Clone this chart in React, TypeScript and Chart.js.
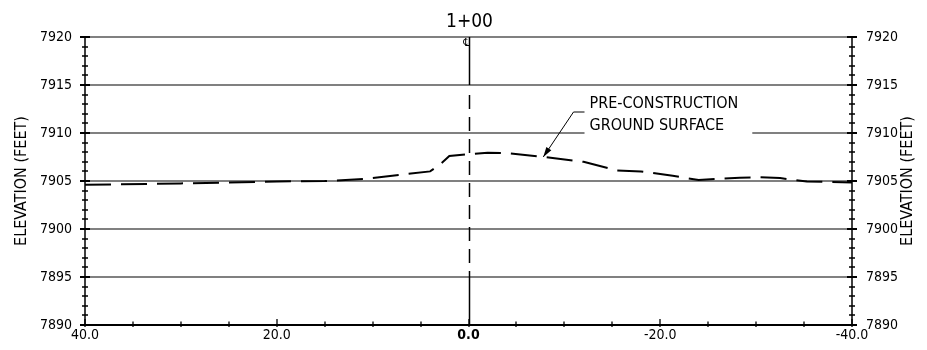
import React, { useEffect, useRef } from "react";
import { Chart, registerables } from "chart.js";

Chart.register(...registerables);

// ---- data ----
const offsets = [40, 30, 20, 15, 11, 4, 3, 2, 0, -2, -4, -8, -12, -15.5, -18, -21.3, -24, -28.3, -30.4, -32.5, -35.3, -40];
const groundElev = [7904.6, 7904.75, 7904.95, 7905.0, 7905.2, 7906.0, 7906.7, 7907.6, 7907.8, 7907.95, 7907.9, 7907.5, 7907.0, 7906.1, 7906.0, 7905.55, 7905.1, 7905.35, 7905.4, 7905.3, 7904.95, 7904.85];
const gridElevations = [7895, 7900, 7905, 7910, 7915, 7920];
const xLabelValues = [40, 20, 0, -20, -40];
const stationLabel = "1+00";
const yTitle = "ELEVATION (FEET)";
const calloutLines = ["PRE-CONSTRUCTION", "GROUND SURFACE"];
const calloutTarget = { x: -7.8, y: 7907.5 };
const calloutGap = { from: -12.1, to: -29.6, elev: 7910 };
const xMin = -40, xMax = 40, yMin = 7890, yMax = 7920;

const FONT = "'DejaVu Sans Condensed', 'DejaVu Sans', sans-serif";

const cadPlugin = {
  id: "cad",
  beforeDatasetsDraw(chart: any) {
    const { ctx, chartArea: a, scales } = chart;
    const x = scales.x, y = scales.y;
    ctx.save();
    ctx.strokeStyle = "#808080";
    ctx.lineWidth = 2;
    for (const v of gridElevations) {
      const py = Math.round(y.getPixelForValue(v));
      ctx.beginPath();
      if (v === calloutGap.elev) {
        ctx.moveTo(a.left, py);
        ctx.lineTo(x.getPixelForValue(calloutGap.from), py);
        ctx.moveTo(x.getPixelForValue(calloutGap.to), py);
        ctx.lineTo(a.right, py);
      } else {
        ctx.moveTo(a.left, py);
        ctx.lineTo(a.right, py);
      }
      ctx.stroke();
    }
    ctx.restore();
  },
  afterDatasetsDraw(chart: any) {
    const { ctx, chartArea: a, scales } = chart;
    const x = scales.x, y = scales.y;
    ctx.save();
    ctx.strokeStyle = "#000";
    // axes
    ctx.lineWidth = 1.5;
    ctx.beginPath();
    ctx.moveTo(a.left, a.top); ctx.lineTo(a.left, a.bottom);
    ctx.moveTo(a.right, a.top); ctx.lineTo(a.right, a.bottom);
    ctx.stroke();
    ctx.lineWidth = 2;
    ctx.beginPath();
    ctx.moveTo(a.left - 5, a.bottom); ctx.lineTo(a.right + 5, a.bottom);
    ctx.stroke();
    // y ticks
    for (let v = yMin; v <= yMax; v++) {
      const py = Math.round(y.getPixelForValue(v));
      const major = v % 5 === 0;
      const h = major ? 5 : 3;
      ctx.lineWidth = major ? 2 : 1.3;
      ctx.beginPath();
      ctx.moveTo(a.left - h, py); ctx.lineTo(a.left + h, py);
      ctx.moveTo(a.right - h, py); ctx.lineTo(a.right + h, py);
      ctx.stroke();
    }
    // x ticks
    for (let v = xMin; v <= xMax; v += 5) {
      const px = Math.round(x.getPixelForValue(v));
      const major = v % 20 === 0;
      ctx.lineWidth = 1.3;
      ctx.beginPath();
      ctx.moveTo(px, a.bottom - (major ? 6 : 3.5));
      ctx.lineTo(px, a.bottom + 2);
      ctx.stroke();
    }
    // centerline
    const cx = Math.round(x.getPixelForValue(0)) + 0.5;
    ctx.lineWidth = 1.5;
    ctx.beginPath();
    ctx.moveTo(cx, y.getPixelForValue(7920)); ctx.lineTo(cx, y.getPixelForValue(7915));
    ctx.moveTo(cx, y.getPixelForValue(7895)); ctx.lineTo(cx, y.getPixelForValue(7890));
    ctx.stroke();
    ctx.setLineDash([14, 8]);
    ctx.beginPath();
    ctx.moveTo(cx, y.getPixelForValue(7915) + 10); ctx.lineTo(cx, y.getPixelForValue(7895));
    ctx.stroke();
    ctx.setLineDash([]);

    // centerline symbol
    ctx.fillStyle = "#000";
    ctx.font = `11px ${FONT}`;
    ctx.textAlign = "right";
    ctx.textBaseline = "top";
    ctx.fillText("\u2104", cx, a.top + 1);

    // station title
    ctx.font = `19px ${FONT}`;
    ctx.textAlign = "center";
    ctx.textBaseline = "alphabetic";
    ctx.fillText(stationLabel, cx, a.top - 10);

    // y titles
    ctx.font = `16px ${FONT}`;
    const midY = (a.top + a.bottom) / 2;
    for (const tx of [22, 908]) {
      ctx.save();
      ctx.translate(tx, midY);
      ctx.rotate(-Math.PI / 2);
      ctx.textAlign = "center";
      ctx.textBaseline = "middle";
      ctx.fillText(yTitle, 0, 0);
      ctx.restore();
    }

    // callout
    const tipX = x.getPixelForValue(calloutTarget.x);
    const tipY = y.getPixelForValue(calloutTarget.y);
    const textX = x.getPixelForValue(calloutGap.from) + 5;
    const line1Y = y.getPixelForValue(7910) - 25;
    ctx.font = `16px ${FONT}`;
    ctx.textAlign = "left";
    ctx.textBaseline = "alphabetic";
    ctx.fillText(calloutLines[0], textX, line1Y);
    ctx.fillText(calloutLines[1], textX, line1Y + 21.5);
    const elbowY = line1Y + 4;
    const hx1 = textX - 5, hx0 = textX - 16;
    ctx.lineWidth = 1;
    ctx.beginPath();
    ctx.moveTo(hx1, elbowY); ctx.lineTo(hx0, elbowY); ctx.lineTo(tipX, tipY);
    ctx.stroke();
    const ang = Math.atan2(tipY - elbowY, tipX - hx0);
    const L = 10, W = 3;
    ctx.beginPath();
    ctx.moveTo(tipX, tipY);
    ctx.lineTo(tipX - L * Math.cos(ang) + W * Math.sin(ang), tipY - L * Math.sin(ang) - W * Math.cos(ang));
    ctx.lineTo(tipX - L * Math.cos(ang) - W * Math.sin(ang), tipY - L * Math.sin(ang) + W * Math.cos(ang));
    ctx.closePath();
    ctx.fill();
    ctx.restore();
  },
};

export default function App() {
  const ref = useRef<HTMLCanvasElement | null>(null);
  useEffect(() => {
    if (!ref.current) return;
    const chart = new Chart(ref.current, {
      type: "line",
      data: {
        datasets: [
          {
            data: offsets.map((o, i) => ({ x: o, y: groundElev[i] })),
            borderColor: "#000",
            borderWidth: 2,
            borderDash: [26, 10],
            pointRadius: 0,
            tension: 0,
            fill: false,
          },
        ],
      },
      options: {
        animation: false,
        responsive: false,
        devicePixelRatio: 1,
        layout: { padding: { top: 37, left: 0, right: 0, bottom: 0 } },
        plugins: { legend: { display: false }, tooltip: { enabled: false } },
        scales: {
          x: {
            type: "linear",
            reverse: true,
            min: xMin,
            max: xMax,
            position: "bottom",
            afterFit: (s: any) => { s.height = 25; },
            afterBuildTicks: (s: any) => { s.ticks = xLabelValues.map((v) => ({ value: v })); },
            grid: { display: false, drawTicks: false },
            border: { display: false },
            ticks: {
              padding: 2,
              color: "#000",
              maxRotation: 0,
              autoSkip: false,
              font: (c: any) => ({ family: FONT, size: 14, weight: c.tick && c.tick.value === 0 ? "bold" : "normal" }),
              callback: (v: any) => Number(v).toFixed(1),
            },
          },
          y: {
            type: "linear",
            position: "left",
            min: yMin,
            max: yMax,
            afterFit: (s: any) => { s.width = 85; },
            grid: { display: false, drawTicks: false },
            border: { display: false },
            ticks: { stepSize: 5, padding: 13, color: "#000", font: { family: FONT, size: 14 }, callback: (v: any) => String(v) },
          },
          y2: {
            type: "linear",
            position: "right",
            min: yMin,
            max: yMax,
            afterFit: (s: any) => { s.width = 75; },
            grid: { display: false, drawTicks: false },
            border: { display: false },
            ticks: { stepSize: 5, padding: 14, color: "#000", font: { family: FONT, size: 14 }, callback: (v: any) => String(v) },
          },
        },
      },
      plugins: [cadPlugin],
    } as any);
    return () => chart.destroy();
  }, []);
  return (
    <div style={{ position: "fixed", left: 0, top: 0, width: 927, height: 350, background: "#fff" }}>
      <canvas ref={ref} width={927} height={350} />
    </div>
  );
}
